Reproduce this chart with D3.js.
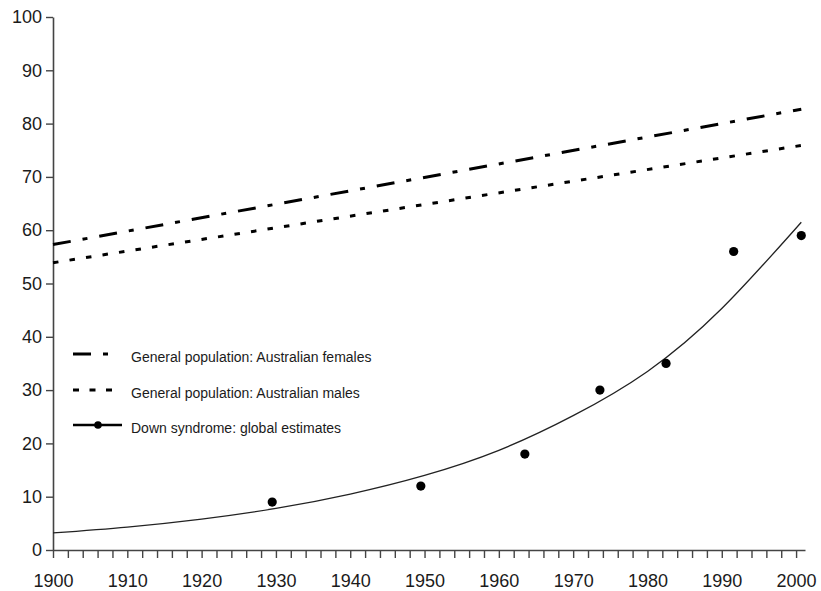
<!DOCTYPE html>
<html>
<head>
<meta charset="utf-8">
<script src="https://cdn.jsdelivr.net/npm/d3@7"></script>
<style>
  html, body { margin: 0; padding: 0; background: #fff; }
  svg { display: block; font-family: "Liberation Sans", Arial, Helvetica, sans-serif; }
</style>
</head>
<body>
<svg id="chart" width="821" height="591"></svg>
<script>
// Life expectancy (years), general population vs Down syndrome
const lifeYears = [1900, 2000.7];
const femaleLE = [57.3, 82.7];
const maleLE = [53.9, 75.9];

// Fitted trend for Down syndrome estimates
const trendYears = [1900, 1910, 1920, 1930, 1940, 1950, 1960, 1970, 1980, 1990, 2000.7];
const trendValues = [3.2, 4.3, 5.8, 7.8, 10.5, 14.0, 18.7, 25.2, 33.5, 45.3, 61.5];

// Individual global estimates for Down syndrome
const estYears = [1929.5, 1949.5, 1963.5, 1973.6, 1982.5, 1991.6, 2000.7];
const estValues = [9, 12, 18, 30, 35, 56, 59];

const xTicks = d3.range(1900, 2001, 2);
const yTicks = d3.range(0, 101, 10);

const legendLabels = [
  "General population: Australian females",
  "General population: Australian males",
  "Down syndrome: global estimates"
];

const svg = d3.select("#chart");
const x = d3.scaleLinear().domain([1900, 2001.2]).range([53, 805]);
const y = d3.scaleLinear().domain([0, 100]).range([550, 17]);

const ink = "#1b1b1b";
const axisColor = "#444";

// Axes
const xAxis = d3.axisBottom(x)
  .tickValues(xTicks)
  .tickSize(8)
  .tickPadding(16)
  .tickSizeOuter(0)
  .tickFormat(d => d % 10 === 0 ? d3.format("d")(d) : "");
const gx = svg.append("g").attr("transform", `translate(0,${y(0)})`).call(xAxis);

const yAxis = d3.axisLeft(y)
  .tickValues(yTicks)
  .tickSize(7)
  .tickPadding(4)
  .tickSizeOuter(0);
const gy = svg.append("g").attr("transform", `translate(${x(1900)},0)`).call(yAxis);

[gx, gy].forEach(g => {
  g.select(".domain").attr("stroke", axisColor).attr("stroke-width", 1.6);
  g.selectAll(".tick line").attr("stroke", axisColor).attr("stroke-width", 1.4);
  g.selectAll(".tick text").attr("fill", ink).attr("font-size", 18)
    .attr("font-family", "'Liberation Sans', Arial, sans-serif");
});

// Series lines
const straight = d3.line().x(d => x(d[0])).y(d => y(d[1]));
const smooth = d3.line().x(d => x(d[0])).y(d => y(d[1])).curve(d3.curveNatural);
const femaleDash = "18,12,5,12";
const maleDash = "5.5,11.2";

svg.append("path")
  .datum(d3.zip(lifeYears, femaleLE))
  .attr("d", straight)
  .attr("fill", "none").attr("stroke", "#000")
  .attr("stroke-width", 3).attr("stroke-dasharray", femaleDash);

svg.append("path")
  .datum(d3.zip(lifeYears, maleLE))
  .attr("d", straight)
  .attr("fill", "none").attr("stroke", "#000")
  .attr("stroke-width", 3).attr("stroke-dasharray", maleDash);

svg.append("path")
  .datum(d3.zip(trendYears, trendValues))
  .attr("d", smooth)
  .attr("fill", "none").attr("stroke", "#222")
  .attr("stroke-width", 1.3);

svg.append("g").selectAll("circle")
  .data(d3.zip(estYears, estValues))
  .join("circle")
  .attr("cx", d => x(d[0])).attr("cy", d => y(d[1]))
  .attr("r", 4.6).attr("fill", "#000");

// Legend
const legend = svg.append("g");
const rowY = [354, 390, 425];
legend.append("line")
  .attr("x1", 73).attr("x2", 110).attr("y1", rowY[0]).attr("y2", rowY[0])
  .attr("stroke", "#000").attr("stroke-width", 3.2).attr("stroke-dasharray", femaleDash);
legend.append("line")
  .attr("x1", 73).attr("x2", 113).attr("y1", rowY[1]).attr("y2", rowY[1])
  .attr("stroke", "#000").attr("stroke-width", 3.2).attr("stroke-dasharray", "6,10.5");
legend.append("line")
  .attr("x1", 73).attr("x2", 122).attr("y1", rowY[2]).attr("y2", rowY[2])
  .attr("stroke", "#000").attr("stroke-width", 2.4);
legend.append("circle")
  .attr("cx", 98).attr("cy", rowY[2]).attr("r", 3.8).attr("fill", "#000");

legend.selectAll("text")
  .data(legendLabels)
  .join("text")
  .attr("x", 131)
  .attr("y", (d, i) => rowY[i] + 7.5)
  .attr("font-size", 14)
  .attr("fill", ink)
  .text(d => d);
</script>
</body>
</html>
